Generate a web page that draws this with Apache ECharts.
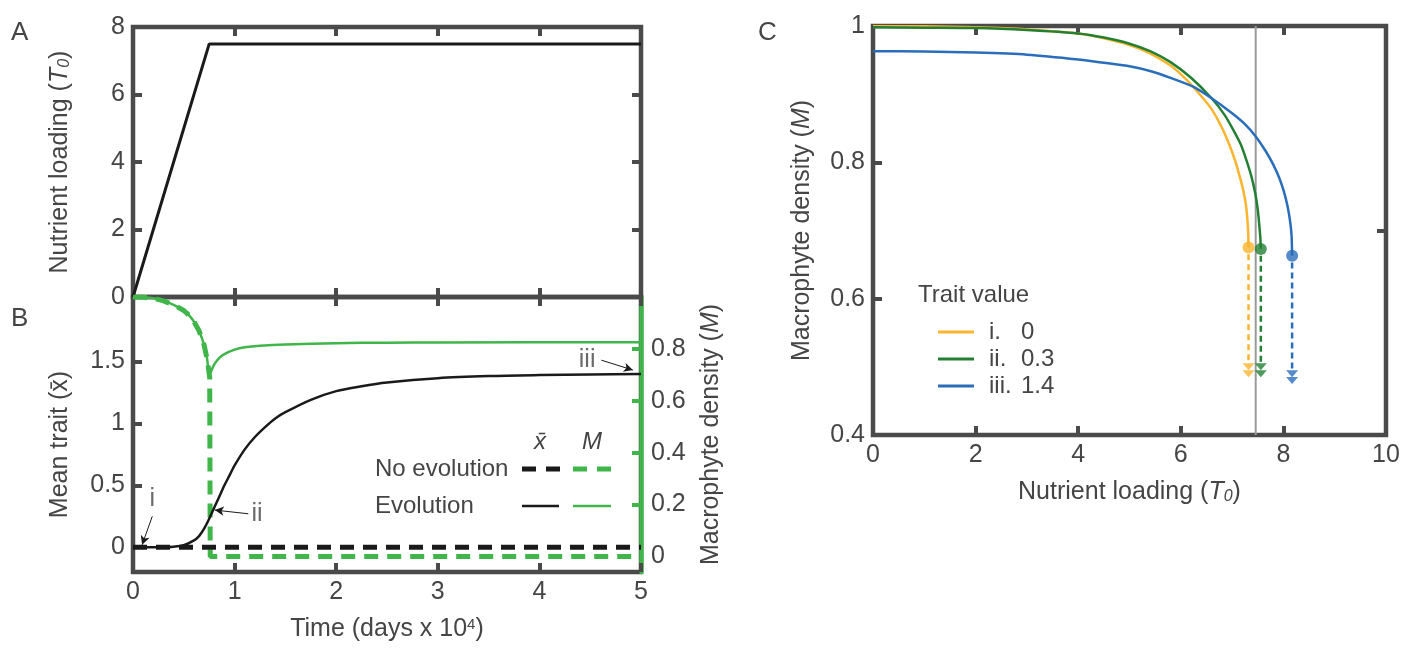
<!DOCTYPE html>
<html>
<head>
<meta charset="utf-8">
<script src="https://cdn.jsdelivr.net/npm/echarts@6.0.0/dist/echarts.min.js"></script>
<style>
html,body{margin:0;padding:0;background:#fff;}
#chart{width:1410px;height:648px;}
</style>
</head>
<body>
<div id="chart"></div>
<script>
// ---------- Panel A: nutrient loading over time ----------
const nutrientTime = [0, 0.75, 5];
const nutrientLoad = [0, 7.5, 7.5];

// ---------- Panel B: trait and macrophyte density over time ----------
const noEvoTraitTime = [0, 5];
const noEvoTraitVals = [0, 0];

const evoTraitTime = [0, 0.3, 0.4, 0.5, 0.6, 0.65, 0.7, 0.75, 0.8, 0.85, 0.9, 0.95, 1.0, 1.1, 1.2, 1.3, 1.4, 1.5, 1.75, 2.0, 2.25, 2.5, 3.0, 3.5, 4.0, 4.5, 5.0];
const evoTraitVals = [0, 0, 0.004, 0.016, 0.055, 0.09, 0.15, 0.23, 0.32, 0.41, 0.5, 0.58, 0.66, 0.79, 0.89, 0.97, 1.04, 1.09, 1.19, 1.26, 1.30, 1.33, 1.365, 1.382, 1.39, 1.395, 1.398];

const evoMTime = [0, 0.1, 0.2, 0.3, 0.4, 0.5, 0.55, 0.6, 0.65, 0.7, 0.73, 0.75, 0.77, 0.8, 0.85, 0.9, 1.0, 1.1, 1.25, 1.5, 2.0, 2.5, 3.0, 5.0];
const evoMVals = [1.0, 0.999, 0.995, 0.985, 0.97, 0.948, 0.93, 0.905, 0.87, 0.815, 0.76, 0.695, 0.715, 0.74, 0.765, 0.78, 0.797, 0.806, 0.812, 0.817, 0.822, 0.824, 0.825, 0.826];

const noEvoMTime = [0, 0.1, 0.2, 0.3, 0.4, 0.5, 0.55, 0.6, 0.65, 0.7, 0.73, 0.755, 0.76, 5.0];
const noEvoMVals = [1.0, 0.999, 0.995, 0.985, 0.97, 0.948, 0.93, 0.905, 0.87, 0.815, 0.76, 0.69, 0, 0];

const annotLabels = ['i', 'ii', 'iii'];
const annotPos = [[0.19, 0.39], [1.22, 0.27], [4.47, 1.51]];
const annotArrowFrom = [[0.19, 0.25], [1.135, 0.27], [4.61, 1.51]];
const annotArrowTo = [[0.09, 0.02], [0.805, 0.30], [4.92, 1.43]];

// ---------- Panel C: equilibrium macrophyte density vs nutrient loading ----------
const traitLabels = ['i.', 'ii.', 'iii.'];
const traitValues = ['0', '0.3', '1.4'];

const curveT0_i = [0, 1, 2, 3, 4, 4.5, 5, 5.4, 5.8, 6.1, 6.4, 6.6, 6.8, 6.95, 7.07, 7.16, 7.22, 7.27, 7.30, 7.315, 7.32];
const curveM_i = [1.0, 0.9995, 0.998, 0.995, 0.989, 0.982, 0.972, 0.960, 0.942, 0.922, 0.897, 0.878, 0.851, 0.825, 0.800, 0.776, 0.758, 0.737, 0.714, 0.695, 0.675];

const curveT0_ii = [0, 1, 2, 3, 4, 4.5, 5, 5.4, 5.8, 6.2, 6.6, 6.85, 7.02, 7.17, 7.28, 7.37, 7.45, 7.50, 7.53, 7.55, 7.56];
const curveM_ii = [0.998, 0.9975, 0.997, 0.994, 0.989, 0.983, 0.974, 0.963, 0.947, 0.924, 0.894, 0.870, 0.848, 0.826, 0.803, 0.781, 0.755, 0.731, 0.708, 0.69, 0.673];

const curveT0_iii = [0, 1, 2, 3, 4, 4.5, 5, 5.4, 5.8, 6.24, 6.6, 7.0, 7.25, 7.46, 7.65, 7.8, 7.92, 8.01, 8.08, 8.13, 8.16, 8.17];
const curveM_iii = [0.963, 0.9625, 0.961, 0.958, 0.951, 0.946, 0.941, 0.934, 0.924, 0.911, 0.894, 0.872, 0.856, 0.838, 0.817, 0.797, 0.777, 0.757, 0.736, 0.714, 0.692, 0.663];

const collapseTips = [[0.500, 0.490], [0.500, 0.490], [0.490, 0.480]];
const currentLoading = 7.46;

// ---------- styling ----------
const FONT = "'Liberation Sans', Arial, Helvetica, sans-serif";
const TXT = '#454545';
const BORDER = '#4a4a4a';
const GREEN_B = '#3fb54a';
const traitColors = ['#fbb42d', '#238033', '#2a6ebb'];

const zip = (xs, ys) => xs.map((x, i) => [x, ys[i]]);
const fmt = v => String(parseFloat(Number(v).toFixed(3)));

const tickIn = (color, custom) => {
  const t = { show: true, inside: true, length: 9, lineStyle: { color: color || BORDER, width: 4 } };
  if (custom) t.customValues = custom;
  return t;
};
const labelStyle = (extra) => Object.assign({ color: TXT, fontSize: 25, fontFamily: FONT, margin: 8, formatter: fmt }, extra || {});
const noLabel = { show: false };
const noSplit = { show: false };
const noLine = { show: false, onZero: false };

const curvesC = [[curveT0_i, curveM_i], [curveT0_ii, curveM_ii], [curveT0_iii, curveM_iii]];
const seriesNames = traitLabels.map((l, i) => l + ' ' + traitValues[i]);

const series = [];
// Panel A
series.push({ type: 'line', xAxisIndex: 0, yAxisIndex: 0, data: zip(nutrientTime, nutrientLoad), showSymbol: false, lineStyle: { color: '#1a1a1a', width: 3 }, silent: true });
// Panel B
series.push({ type: 'line', xAxisIndex: 2, yAxisIndex: 3, data: zip(evoMTime, evoMVals), showSymbol: false, smooth: 0.3, lineStyle: { color: GREEN_B, width: 2.5 }, silent: true });
series.push({ type: 'line', xAxisIndex: 2, yAxisIndex: 3, data: zip(noEvoMTime, noEvoMVals), showSymbol: false, lineStyle: { color: GREEN_B, width: 5, type: [14, 9] }, silent: true });
series.push({ type: 'line', xAxisIndex: 2, yAxisIndex: 2, data: zip(noEvoTraitTime, noEvoTraitVals), showSymbol: false, lineStyle: { color: '#1a1a1a', width: 5, type: [14, 9] }, silent: true });
series.push({ type: 'line', xAxisIndex: 2, yAxisIndex: 2, data: zip(evoTraitTime, evoTraitVals), showSymbol: false, smooth: 0.3, lineStyle: { color: '#1a1a1a', width: 2.5 }, silent: true });
series.push({
  type: 'scatter', xAxisIndex: 2, yAxisIndex: 2, symbolSize: 0, silent: true,
  data: annotPos.map((p, i) => [p[0], p[1], annotLabels[i]]),
  label: { show: true, position: 'inside', formatter: p => p.data[2], color: TXT, fontSize: 25, fontFamily: FONT },
  markLine: {
    silent: true, symbol: ['none', 'arrow'], symbolSize: [7, 9],
    lineStyle: { color: '#1a1a1a', width: 1, type: 'solid' }, label: { show: false },
    data: annotArrowFrom.map((f, i) => [{ coord: f }, { coord: annotArrowTo[i] }])
  }
});
// Panel C
series.push({ type: 'line', xAxisIndex: 4, yAxisIndex: 4, data: [[currentLoading, 0.4], [currentLoading, 1.0]], showSymbol: false, lineStyle: { color: '#9a9a9a', width: 2 }, z: 1, silent: true });
curvesC.forEach((c, i) => {
  const T = c[0], M = c[1];
  const endT = T[T.length - 1], endM = M[M.length - 1];
  series.push({ name: seriesNames[i], type: 'line', xAxisIndex: 4, yAxisIndex: 4, data: zip(T, M), showSymbol: false, smooth: 0.2, lineStyle: { color: traitColors[i], width: 2.5 }, itemStyle: { color: traitColors[i] }, silent: true });
  series.push({ type: 'line', xAxisIndex: 4, yAxisIndex: 4, data: [[endT, endM - 0.01], [endT, collapseTips[i][0] + 0.004]], showSymbol: false, lineStyle: { color: traitColors[i], width: 2.5, type: [6, 4] }, silent: true });
  series.push({ type: 'scatter', xAxisIndex: 4, yAxisIndex: 4, data: collapseTips[i].map(v => [endT, v]), symbol: 'triangle', symbolRotate: 180, symbolSize: [12, 7], itemStyle: { color: traitColors[i] }, silent: true });
  series.push({ type: 'scatter', xAxisIndex: 4, yAxisIndex: 4, data: [[endT, endM]], symbol: 'circle', symbolSize: 12, itemStyle: { color: traitColors[i] }, silent: true });
});

const gridBase = { show: true, borderColor: BORDER, borderWidth: 4.5, backgroundColor: 'transparent', containLabel: false };

const option = {
  animation: false,
  backgroundColor: '#ffffff',
  textStyle: { fontFamily: FONT, color: TXT },
  grid: [
    Object.assign({ left: 133, top: 27, width: 508, height: 270 }, gridBase),
    Object.assign({ left: 133, top: 297, width: 508, height: 275 }, gridBase),
    Object.assign({ left: 873, top: 26, width: 513, height: 409 }, gridBase)
  ],
  xAxis: [
    { gridIndex: 0, type: 'value', min: 0, max: 5, interval: 1, axisLine: noLine, axisTick: tickIn(), axisLabel: noLabel, splitLine: noSplit },
    { gridIndex: 0, type: 'value', position: 'top', min: 0, max: 5, interval: 1, axisLine: noLine, axisTick: tickIn(), axisLabel: noLabel, splitLine: noSplit },
    { gridIndex: 1, type: 'value', min: 0, max: 5, interval: 1, axisLine: noLine, axisTick: tickIn(), axisLabel: labelStyle(), splitLine: noSplit,
      name: 'Time (days x 10{sup|4})', nameLocation: 'middle', nameGap: 45,
      nameTextStyle: { color: TXT, fontSize: 25, fontFamily: FONT, rich: { sup: { fontSize: 15, verticalAlign: 'top', color: TXT, fontFamily: FONT } } } },
    { gridIndex: 1, type: 'value', position: 'top', min: 0, max: 5, interval: 1, axisLine: noLine, axisTick: tickIn(), axisLabel: noLabel, splitLine: noSplit },
    { gridIndex: 2, type: 'value', min: 0, max: 10, interval: 2, axisLine: noLine, axisTick: tickIn(), axisLabel: labelStyle(), splitLine: noSplit,
      name: 'Nutrient loading ({it|T}{sub|0})', nameLocation: 'middle', nameGap: 45,
      nameTextStyle: { color: TXT, fontSize: 25, fontFamily: FONT, rich: { it: { fontStyle: 'italic', fontSize: 25, color: TXT, fontFamily: FONT }, sub: { fontStyle: 'italic', fontSize: 16, verticalAlign: 'bottom', color: TXT, fontFamily: FONT } } } },
    { gridIndex: 2, type: 'value', position: 'top', min: 0, max: 10, interval: 2, axisLine: noLine, axisTick: tickIn(), axisLabel: noLabel, splitLine: noSplit }
  ],
  yAxis: [
    { gridIndex: 0, type: 'value', min: 0, max: 8, interval: 2, axisLine: noLine, axisTick: tickIn(), axisLabel: labelStyle(), splitLine: noSplit,
      name: 'Nutrient loading ({it|T}{sub|0})', nameLocation: 'middle', nameGap: 60, nameRotate: 90,
      nameTextStyle: { color: TXT, fontSize: 25, fontFamily: FONT, rich: { it: { fontStyle: 'italic', fontSize: 25, color: TXT, fontFamily: FONT }, sub: { fontStyle: 'italic', fontSize: 16, verticalAlign: 'bottom', color: TXT, fontFamily: FONT } } } },
    { gridIndex: 0, type: 'value', position: 'right', min: 0, max: 8, interval: 2, axisLine: noLine, axisTick: tickIn(), axisLabel: noLabel, splitLine: noSplit },
    { gridIndex: 1, type: 'value', min: -0.2, max: 2.02, axisLine: noLine, axisTick: tickIn(null, [0, 0.5, 1, 1.5]), axisLabel: labelStyle({ customValues: [0, 0.5, 1, 1.5] }), splitLine: noSplit,
      name: 'Mean trait (x\u0304)', nameLocation: 'middle', nameGap: 60, nameRotate: 90,
      nameTextStyle: { color: TXT, fontSize: 25, fontFamily: FONT, padding: [0, 20, 0, 0] } },
    { gridIndex: 1, type: 'value', position: 'right', min: -0.06, max: 1.0,
      axisLine: { show: true, onZero: false, lineStyle: { color: GREEN_B, width: 4.5 } },
      axisTick: tickIn(GREEN_B, [0.2, 0.4, 0.6, 0.8]), axisLabel: labelStyle({ margin: 10, customValues: [0, 0.2, 0.4, 0.6, 0.8] }), splitLine: noSplit,
      name: 'Macrophyte density ({it|M})', nameLocation: 'middle', nameGap: 58, nameRotate: 90,
      nameTextStyle: { color: TXT, fontSize: 25, fontFamily: FONT, rich: { it: { fontStyle: 'italic', fontSize: 25, color: TXT, fontFamily: FONT } } } },
    { gridIndex: 2, type: 'value', min: 0.4, max: 1.0, axisLine: noLine, axisTick: tickIn(null, [0.6, 0.8]), axisLabel: labelStyle({ customValues: [0.4, 0.6, 0.8, 1] }), splitLine: noSplit,
      name: 'Macrophyte density ({it|M})', nameLocation: 'middle', nameGap: 58, nameRotate: 90,
      nameTextStyle: { color: TXT, fontSize: 25, fontFamily: FONT, rich: { it: { fontStyle: 'italic', fontSize: 25, color: TXT, fontFamily: FONT } } } },
    { gridIndex: 2, type: 'value', position: 'right', min: 0.4, max: 1.0, axisLine: noLine, axisTick: tickIn(null, [0.7]), axisLabel: noLabel, splitLine: noSplit }
  ],
  legend: {
    data: seriesNames, orient: 'vertical', left: 933, top: 315, itemWidth: 36, itemHeight: 3, itemGap: 3, icon: 'rect',
    selectedMode: false,
    formatter: name => { const p = name.split(' '); return '{a|' + p[0] + '}{b|' + p[1] + '}'; },
    textStyle: { color: TXT, fontSize: 24, fontFamily: FONT, padding: [0, 0, 0, 10],
      rich: { a: { width: 32, fontSize: 24, color: TXT, fontFamily: FONT, lineHeight: 24 }, b: { fontSize: 24, color: TXT, fontFamily: FONT, lineHeight: 24 } } }
  },
  graphic: [
    { type: 'text', left: 11, top: 20, style: { text: 'A', fontSize: 26, fill: TXT, fontFamily: FONT } },
    { type: 'text', left: 11, top: 306, style: { text: 'B', fontSize: 26, fill: TXT, fontFamily: FONT } },
    { type: 'text', left: 758, top: 20, style: { text: 'C', fontSize: 26, fill: TXT, fontFamily: FONT } },
    // Panel B legend
    { type: 'text', x: 540, y: 442, style: { text: 'x\u0304', fontSize: 24, fontStyle: 'italic', fill: TXT, fontFamily: FONT, align: 'center', verticalAlign: 'middle' } },
    { type: 'text', x: 592, y: 442, style: { text: 'M', fontSize: 24, fontStyle: 'italic', fill: TXT, fontFamily: FONT, align: 'center', verticalAlign: 'middle' } },
    { type: 'text', x: 375, y: 469, style: { text: 'No evolution', fontSize: 24, fill: TXT, fontFamily: FONT, align: 'left', verticalAlign: 'middle' } },
    { type: 'text', x: 375, y: 506, style: { text: 'Evolution', fontSize: 24, fill: TXT, fontFamily: FONT, align: 'left', verticalAlign: 'middle' } },
    { type: 'line', shape: { x1: 522, y1: 469, x2: 560, y2: 469 }, style: { stroke: '#1a1a1a', lineWidth: 5, lineDash: [14, 10] } },
    { type: 'line', shape: { x1: 573, y1: 469, x2: 611, y2: 469 }, style: { stroke: GREEN_B, lineWidth: 5, lineDash: [14, 10] } },
    { type: 'line', shape: { x1: 522, y1: 506, x2: 559, y2: 506 }, style: { stroke: '#1a1a1a', lineWidth: 2.5 } },
    { type: 'line', shape: { x1: 573, y1: 506, x2: 611, y2: 506 }, style: { stroke: GREEN_B, lineWidth: 2.5 } },
    // Panel C legend title
    { type: 'text', x: 918, y: 295, style: { text: 'Trait value', fontSize: 24, fill: TXT, fontFamily: FONT, align: 'left', verticalAlign: 'middle' } }
  ],
  series: series
};

const chart = echarts.init(document.getElementById('chart'), null, { renderer: 'canvas' });
chart.setOption(option);
</script>
</body>
</html>
